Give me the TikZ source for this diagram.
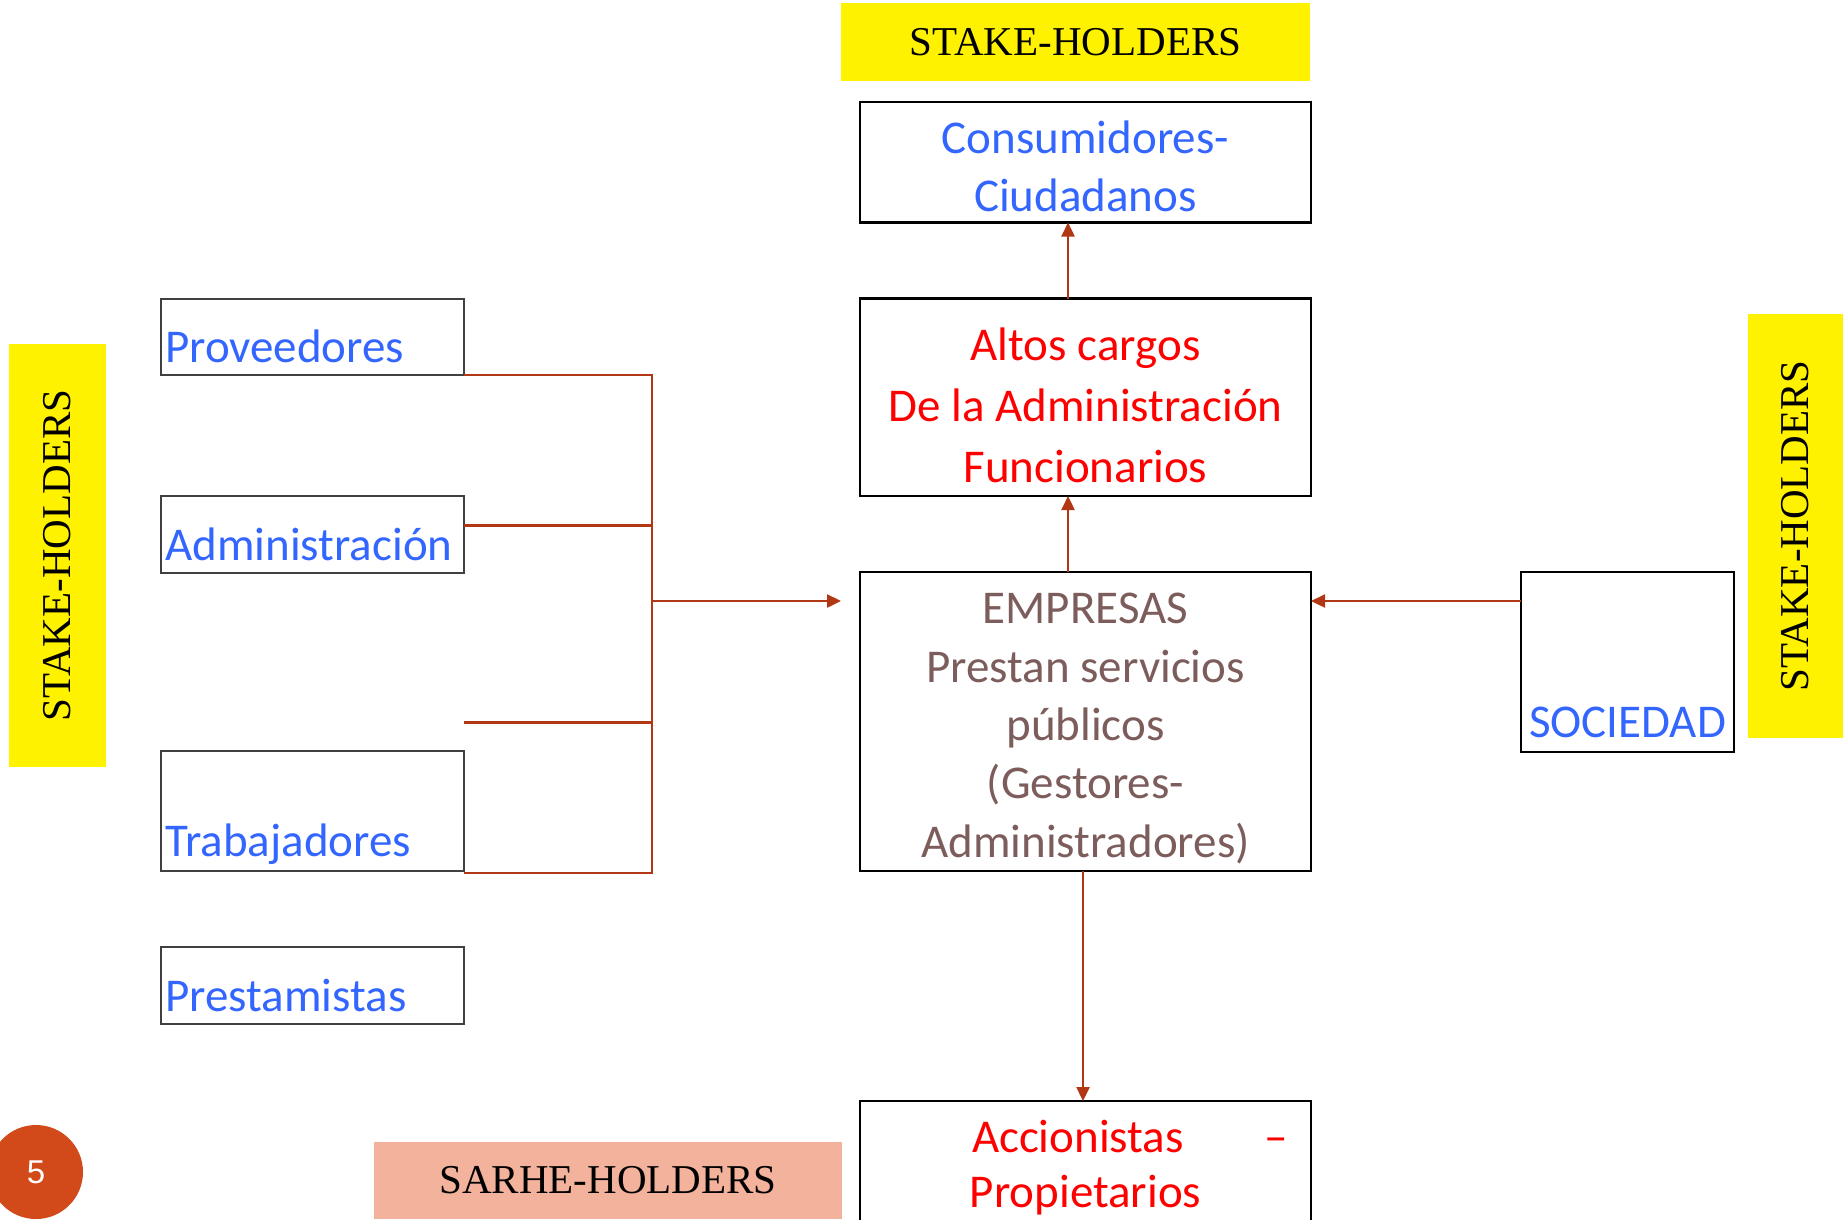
\documentclass[tikz,border=0pt]{standalone}
\usepackage{fontspec}
\setmainfont{Carlito}
\newfontfamily\timesfont{Liberation Serif}
\newfontfamily\arialfont{Liberation Sans}
\usepackage{xcolor}
\usepackage{tikz}
\usetikzlibrary{positioning,shapes,arrows.meta}
\definecolor{linkred}{RGB}{178,55,20}
\definecolor{blueText}{RGB}{51,102,255}
\definecolor{empText}{RGB}{125,92,92}
\definecolor{salmon}{RGB}{243,178,155}
\definecolor{pageorange}{RGB}{210,74,26}
\tikzset{
    holder/.style={
        rectangle,
        fill=yellow,
        text centered,
        inner sep=0pt,
        font=\timesfont\fontsize{41}{41}\selectfont
    },
    arrow/.style={
        -{Triangle[length=14pt,width=13pt]},
        draw=linkred,
        line width=2.4pt
    },
    link/.style={
        draw=linkred,
        line width=2.4pt
    }
}
\tikzstyle{mainbox} = [rectangle, draw=black, line width=2.6pt, minimum width=451pt, inner sep=0pt, outer sep=0pt, align=center, font=\fontsize{47}{55}\selectfont]
\tikzstyle{boxtext} = [inner sep=0pt, align=center]
\tikzstyle{sidebox} = [rectangle, draw=black!75, line width=1.8pt, minimum width=303pt, inner sep=0pt, outer sep=0pt]
\tikzstyle{sidetext} = [text=blueText, font=\fontsize{47}{53}\selectfont, inner sep=0pt, anchor=base west, xshift=4pt, yshift=13pt]

\begin{document}
\begin{tikzpicture}[x=1pt, y=-1pt]
          \clip (0,0) rectangle (1843,1219);
          \node (holdtop) [holder, minimum width=469pt, minimum height=78pt] at (1075.5,42) {STAKE-HOLDERS};
          \node (holdleft) [holder, rotate=90, minimum width=423pt, minimum height=97pt] at (57.5,555.5) {STAKE-HOLDERS};
          \node (holdright) [holder, rotate=90, minimum width=424pt, minimum height=95pt] at (1795.5,526) {STAKE-HOLDERS};
          \node (share) [holder, fill=salmon, minimum width=468pt, minimum height=77pt] at (608,1180.5) {SARHE-HOLDERS};
          \node (page) [circle, fill=pageorange, minimum size=94pt, inner sep=0pt, text=white, font=\arialfont\fontsize{33}{33}\selectfont] at (36,1172) {5};
          \node (cons) [mainbox, minimum height=120.5pt, label={[boxtext, text=blueText, font=\fontsize{47}{58}\selectfont, yshift=-4pt]center:{Consumidores-\\Ciudadanos}}] at (1085.5,162.25) {};
          \node (altos) [mainbox, below=76pt of cons, minimum height=197.5pt, label={[boxtext, text=red, font=\fontsize{47}{61}\selectfont, yshift=-8pt]center:{Altos cargos\\De la Administración\\Funcionarios}}] {};
          \node (emp) [mainbox, below=76pt of altos, minimum height=299pt, label={[boxtext, text=empText, font=\fontsize{47}{58.4}\selectfont, yshift=-7pt]center:{EMPRESAS\\Prestan servicios\\públicos\\(Gestores-\\Administradores)}}] {};
          \node (acc) [mainbox, below=230pt of emp, minimum height=134pt, text=red] {\makebox[405pt]{\hspace{89pt}Accionistas\hfill –}\\Propietarios};
          \node (soc) [rectangle, draw=black, line width=2.6pt, outer sep=0pt, minimum width=213pt, minimum height=180pt, label={[text=blueText, font=\fontsize{47}{53}\selectfont, inner sep=0pt, anchor=base, yshift=15pt]south:SOCIEDAD}] at (1627.5,662) {};
          \node (prov) [sidebox, minimum height=76pt, label={[sidetext]south west:Proveedores}] at (312.5,337) {};
          \node (adm) [sidebox, below=121pt of prov, minimum height=77pt, label={[sidetext]south west:Administración}] {};
          \node (trab) [sidebox, below=178pt of adm, minimum height=120pt, label={[sidetext, yshift=1.5pt]south west:Trabajadores}] {};
          \node (prest) [sidebox, below=76pt of trab, minimum height=77pt, label={[sidetext]south west:Prestamistas}] {};
          \coordinate (hub) at (652,601);
          \coordinate (stub) at (464,722.5);
          \coordinate (socin) at ([yshift=61pt]soc.west);
          \draw [link] (prov.south east) -| (hub);
          \draw [link] ([yshift=9pt]adm.east) -| (hub);
          \draw [link] (stub) -| (hub);
          \draw [link] ([yshift=-2pt]trab.south east) -| (hub);
          \draw [arrow, shorten >=19pt] (hub) -- (hub -| emp.west);
          \draw [arrow] ([xshift=-17.5pt]emp.north) -- ([xshift=-17.5pt]altos.south);
          \draw [arrow] ([xshift=-17.5pt]altos.north) -- ([xshift=-17.5pt]cons.south);
          \draw [arrow] ([xshift=-2.5pt]emp.south) -- ([xshift=-2.5pt]acc.north);
          \draw [arrow] (socin) -- (socin -| emp.east);
        \end{tikzpicture}
\end{document}
